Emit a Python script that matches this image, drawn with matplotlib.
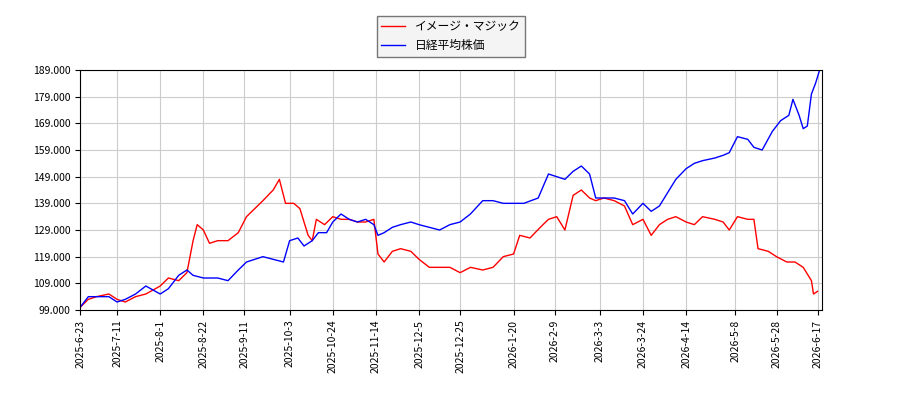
import matplotlib.pyplot as plt
import matplotlib.dates as mdates
import pandas as pd

plt.rcParams['font.family'] = ['Noto Sans CJK JP', 'DejaVu Sans']

red_dates = ["2025-6-23", "2025-6-27", "2025-7-1", "2025-7-7", "2025-7-11", "2025-7-15", "2025-7-20", "2025-7-25",
             "2025-8-1", "2025-8-5", "2025-8-10", "2025-8-14", "2025-8-17", "2025-8-19", "2025-8-22", "2025-8-25",
             "2025-8-29", "2025-9-3", "2025-9-8", "2025-9-12", "2025-9-16", "2025-9-20", "2025-9-25", "2025-9-28",
             "2025-10-1", "2025-10-5", "2025-10-8", "2025-10-12", "2025-10-14", "2025-10-16", "2025-10-20",
             "2025-10-24", "2025-10-28", "2025-11-1", "2025-11-5", "2025-11-9", "2025-11-13", "2025-11-15",
             "2025-11-18", "2025-11-22", "2025-11-26", "2025-12-1", "2025-12-5", "2025-12-10", "2025-12-15",
             "2025-12-20", "2025-12-25", "2025-12-30", "2026-1-5", "2026-1-10", "2026-1-15", "2026-1-20",
             "2026-1-23", "2026-1-28", "2026-2-2", "2026-2-6", "2026-2-10", "2026-2-14", "2026-2-18", "2026-2-22",
             "2026-2-26", "2026-3-1", "2026-3-5", "2026-3-10", "2026-3-15", "2026-3-19", "2026-3-24", "2026-3-28",
             "2026-4-1", "2026-4-5", "2026-4-9", "2026-4-14", "2026-4-18", "2026-4-22", "2026-4-28", "2026-5-2",
             "2026-5-5", "2026-5-9", "2026-5-14", "2026-5-17", "2026-5-19", "2026-5-24", "2026-5-28", "2026-6-2",
             "2026-6-6", "2026-6-10", "2026-6-14", "2026-6-15", "2026-6-17"]
red_values = [100, 103, 104, 105, 103, 102, 104, 105, 108, 111, 110, 113, 125, 131, 129, 124, 125, 125, 128, 134,
              137, 140, 144, 148, 139, 139, 137, 127, 125, 133, 131, 134, 133, 133, 132, 132, 133, 120, 117, 121,
              122, 121, 118, 115, 115, 115, 113, 115, 114, 115, 119, 120, 127, 126, 130, 133, 134, 129, 142, 144,
              141, 140, 141, 140, 138, 131, 133, 127, 131, 133, 134, 132, 131, 134, 133, 132, 129, 134, 133, 133,
              122, 121, 119, 117, 117, 115, 110, 105, 106]

blue_dates = ["2025-6-23", "2025-6-27", "2025-7-1", "2025-7-7", "2025-7-11", "2025-7-15", "2025-7-20", "2025-7-25",
              "2025-8-1", "2025-8-5", "2025-8-10", "2025-8-14", "2025-8-17", "2025-8-22", "2025-8-29", "2025-9-3",
              "2025-9-8", "2025-9-12", "2025-9-16", "2025-9-20", "2025-9-25", "2025-9-30", "2025-10-3", "2025-10-7",
              "2025-10-10", "2025-10-14", "2025-10-17", "2025-10-21", "2025-10-24", "2025-10-28", "2025-11-1",
              "2025-11-5", "2025-11-9", "2025-11-13", "2025-11-15", "2025-11-18", "2025-11-22", "2025-11-26",
              "2025-12-1", "2025-12-5", "2025-12-10", "2025-12-15", "2025-12-20", "2025-12-25", "2025-12-30",
              "2026-1-5", "2026-1-10", "2026-1-15", "2026-1-20", "2026-1-25", "2026-2-1", "2026-2-6", "2026-2-10",
              "2026-2-14", "2026-2-18", "2026-2-22", "2026-2-26", "2026-3-1", "2026-3-5", "2026-3-10", "2026-3-15",
              "2026-3-19", "2026-3-24", "2026-3-28", "2026-4-1", "2026-4-5", "2026-4-9", "2026-4-14", "2026-4-18",
              "2026-4-22", "2026-4-28", "2026-5-2", "2026-5-5", "2026-5-9", "2026-5-14", "2026-5-17", "2026-5-21",
              "2026-5-26", "2026-5-30", "2026-6-3", "2026-6-5", "2026-6-8", "2026-6-10", "2026-6-12", "2026-6-14",
              "2026-6-16", "2026-6-18"]
blue_values = [100, 104, 104, 104, 102, 103, 105, 108, 105, 107, 112, 114, 112, 111, 111, 110, 114, 117, 118, 119,
               118, 117, 125, 126, 123, 125, 128, 128, 132, 135, 133, 132, 133, 131, 127, 128, 130, 131, 132, 131,
               130, 129, 131, 132, 135, 140, 140, 139, 139, 139, 141, 150, 149, 148, 151, 153, 150, 141, 141, 141,
               140, 135, 139, 136, 138, 143, 148, 152, 154, 155, 156, 157, 158, 164, 163, 160, 159, 166, 170, 172,
               178, 172, 167, 168, 180, 184, 189]

tick_dates = ["2025-6-23", "2025-7-11", "2025-8-1", "2025-8-22", "2025-9-11", "2025-10-3", "2025-10-24",
              "2025-11-14", "2025-12-5", "2025-12-25", "2026-1-20", "2026-2-9", "2026-3-3", "2026-3-24",
              "2026-4-14", "2026-5-8", "2026-5-28", "2026-6-17"]

fig, ax = plt.subplots(figsize=(9, 4), dpi=100)
fig.subplots_adjust(left=0.089, right=0.913, top=0.825, bottom=0.225)
ax.plot(pd.to_datetime(red_dates), red_values, color="red", lw=1, label="イメージ・マジック")
ax.plot(pd.to_datetime(blue_dates), blue_values, color="blue", lw=1, label="日経平均株価")

ax.set_ylim(99, 189)
ax.set_yticks(range(99, 190, 10))
ax.set_yticklabels([f"{v}.000" for v in range(99, 190, 10)], fontsize=7.5)
ax.set_xlim(pd.Timestamp("2025-6-23"), pd.Timestamp("2026-6-19"))
ax.set_xticks(pd.to_datetime(tick_dates))
ax.xaxis.set_major_formatter(mdates.DateFormatter("%Y-%-m-%-d"))
plt.setp(ax.get_xticklabels(), rotation=90, fontsize=7.5)
ax.grid(True, color="#cccccc", lw=0.8)
ax.legend(loc="lower center", bbox_to_anchor=(0.5, 1.03), fontsize=8.5, facecolor="#f2f2f2",
          edgecolor="#555555", fancybox=False)
plt.savefig("out.png")
plt.close()
